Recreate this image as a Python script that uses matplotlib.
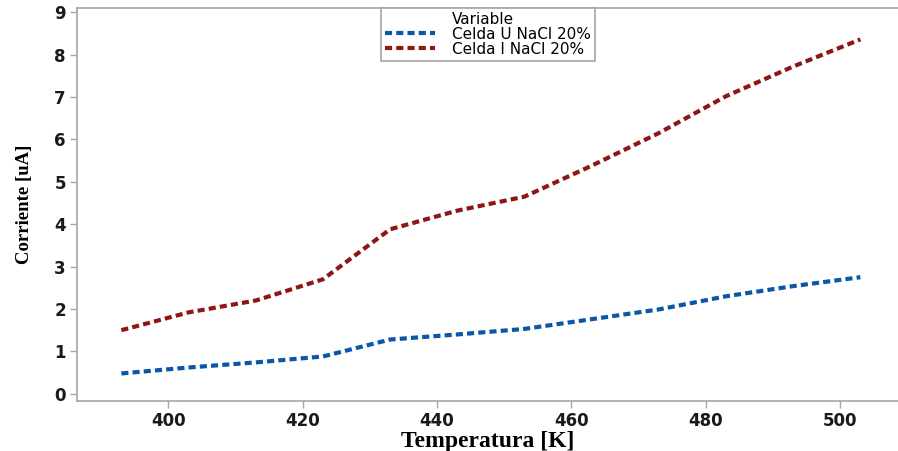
import matplotlib.pyplot as plt
from matplotlib.lines import Line2D

temperatura = [393, 403, 413, 423, 433, 443, 453, 463, 473, 483, 493, 503]
celda_u = [0.48, 0.62, 0.74, 0.88, 1.28, 1.40, 1.53, 1.76, 1.99, 2.30, 2.54, 2.75]
celda_i = [1.50, 1.92, 2.20, 2.70, 3.88, 4.32, 4.65, 5.38, 6.15, 7.02, 7.72, 8.36]

xticks = [400, 420, 440, 460, 480, 500]
yticks = list(range(0, 10))

azul = '#0a56a8'
rojo = '#8e1616'
gris = '#a6a6a6'

fig = plt.figure(figsize=(8.98, 4.51), dpi=100)
ax = fig.add_axes([77/898, 50/451, 1 - 77/898, 393/451])

lu, = ax.plot(temperatura, celda_u, color=azul, lw=3.0, dashes=(1.7, 1.0),
              dash_capstyle='butt', label='Celda U NaCl 20%')
li, = ax.plot(temperatura, celda_i, color=rojo, lw=3.0, dashes=(1.7, 1.0),
              dash_capstyle='butt', label='Celda I NaCl 20%')

ax.set_xlim(386.4, 508.6)
ax.set_ylim(-0.17, 9.1)
ax.set_xticks(xticks)
ax.set_yticks(yticks)

for s in ['top', 'left', 'bottom']:
    ax.spines[s].set_color(gris)
    ax.spines[s].set_linewidth(1.2)
ax.spines['right'].set_visible(False)
ax.tick_params(direction='out', length=5, width=1, color=gris,
               labelsize=12, labelcolor='#1a1a1a', pad=3)
for lab in ax.get_xticklabels() + ax.get_yticklabels():
    lab.set_family('DejaVu Sans')
    lab.set_fontweight('bold')

ax.set_xlabel('Temperatura [K]', family='Liberation Serif', fontweight='bold',
              fontsize=17, labelpad=0.5)
ax.set_ylabel('Corriente [uA]', family='Liberation Serif', fontweight='bold',
              fontsize=13.5, labelpad=15)

# título "Variable" alineado con las etiquetas, como en el original
titulo = Line2D([], [], lw=0)
leg = ax.legend([titulo, lu, li], ['Variable', 'Celda U NaCl 20%', 'Celda I NaCl 20%'],
                loc='upper left', bbox_to_anchor=((381 - 77) / 821, 1.0),
                frameon=True, fancybox=False, edgecolor=gris, framealpha=1,
                prop={'family': 'DejaVu Sans', 'size': 11},
                handlelength=3.3, handletextpad=1.1, borderpad=0.25,
                labelspacing=0.0, borderaxespad=0)
leg.get_frame().set_linewidth(1.2)

fig.savefig('out.png', dpi=100)
